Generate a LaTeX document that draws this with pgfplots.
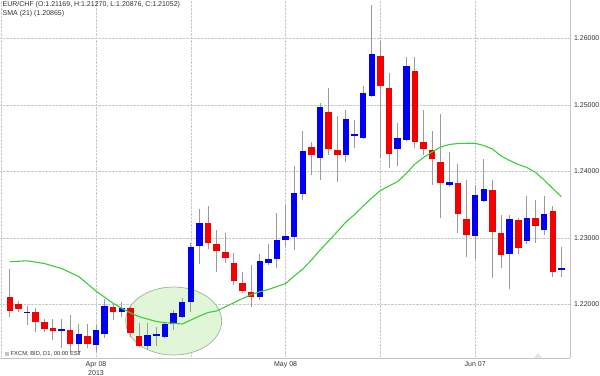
\documentclass[border=0pt]{standalone}
\usepackage{pgfplots}
\pgfplotsset{compat=1.18}
\usepackage{pgfplotstable}
\usepackage{fontspec}
\setmainfont{Liberation Sans}
\definecolor{candleup}{RGB}{0,0,245}
\definecolor{candledn}{RGB}{245,0,0}
\definecolor{wick}{RGB}{155,155,155}
\definecolor{smagreen}{RGB}{60,205,60}
\definecolor{gridc}{RGB}{200,200,200}
\definecolor{framec}{RGB}{195,195,195}
\definecolor{txt}{RGB}{50,50,50}

% up candles (close > open)
\pgfplotstableread{
i O H L C
-8 1.21865 1.21975 1.21689 1.21885
-4 1.21594 1.21775 1.21343 1.21629
-2 1.21399 1.21704 1.21238 1.21549
0 1.21388 1.21689 1.21283 1.21614
1 1.21549 1.22076 1.21494 1.21975
3 1.21889 1.22030 1.21805 1.21940
6 1.21378 1.21715 1.21313 1.21539
7 1.21530 1.21664 1.21378 1.21550
8 1.21513 1.21739 1.21489 1.21704
9 1.21704 1.21915 1.21614 1.21865
10 1.21814 1.22091 1.21790 1.22030
11 1.22039 1.22918 1.21889 1.22855
12 1.22882 1.23429 1.22602 1.23228
19 1.22115 1.22757 1.22065 1.22652
20 1.22617 1.22907 1.22591 1.22682
21 1.22682 1.23369 1.22542 1.22963
22 1.22967 1.23494 1.22867 1.23028
23 1.23017 1.24085 1.22817 1.23670
24 1.23655 1.24607 1.23569 1.24306
26 1.24196 1.25032 1.23870 1.24963
29 1.24246 1.24923 1.24145 1.24783
30 1.24538 1.24772 1.24356 1.24560
31 1.24497 1.25284 1.24480 1.25183
32 1.25138 1.26502 1.25120 1.25765
35 1.24341 1.24732 1.24085 1.24506
36 1.24471 1.25715 1.24450 1.25584
41 1.23795 1.24291 1.23769 1.23840
44 1.23031 1.23795 1.22682 1.23644
45 1.23558 1.24181 1.23534 1.23730
48 1.22757 1.23343 1.22226 1.23283
50 1.22957 1.23629 1.22907 1.23303
52 1.23118 1.23629 1.23043 1.23358
54 1.22520 1.22858 1.22415 1.22540
}\upc

% down candles (close < open)
\pgfplotstableread{
i O H L C
-10 1.22115 1.22531 1.21814 1.21904
-9 1.22005 1.22050 1.21889 1.21930
-7 1.21889 1.21945 1.21584 1.21730
-6 1.21730 1.21779 1.21588 1.21633
-5 1.21644 1.21775 1.21463 1.21603
-3 1.21618 1.21835 1.21283 1.21403
-1 1.21524 1.21704 1.21343 1.21408
2 1.21960 1.22015 1.21764 1.21880
4 1.21940 1.21975 1.21513 1.21564
5 1.21528 1.21715 1.21363 1.21378
13 1.23219 1.23479 1.22828 1.22927
14 1.22903 1.23118 1.22491 1.22807
15 1.22782 1.23068 1.22626 1.22701
16 1.22617 1.22767 1.22291 1.22355
17 1.22325 1.22491 1.22175 1.22205
18 1.22190 1.22591 1.21964 1.22115
25 1.24371 1.24446 1.23945 1.24246
27 1.24888 1.25249 1.24246 1.24332
28 1.24321 1.24832 1.23835 1.24246
33 1.25739 1.25965 1.24196 1.25288
34 1.25249 1.25484 1.24055 1.24261
37 1.25509 1.25715 1.24356 1.24437
38 1.24437 1.24923 1.24246 1.24336
39 1.24321 1.24607 1.23795 1.24181
40 1.24141 1.24862 1.23291 1.23829
42 1.23825 1.24118 1.23077 1.23354
43 1.23280 1.23870 1.22712 1.23043
46 1.23719 1.23870 1.22391 1.23092
47 1.23068 1.23343 1.22542 1.22742
49 1.23269 1.23298 1.22757 1.22852
51 1.23303 1.23569 1.22918 1.23178
53 1.23408 1.23479 1.22415 1.22491
}\dnc

% SMA (21)
\pgfplotstableread{
i S
-10 1.22641
-8 1.22655
-6 1.22614
-4 1.22539
-2 1.22418
0 1.22200
1 1.22106
2 1.22015
3 1.21940
4 1.21870
5 1.21814
6 1.21779
7 1.21742
8 1.21724
9 1.21715
10 1.21704
11 1.21764
12 1.21824
13 1.21877
14 1.21900
15 1.21963
16 1.22024
17 1.22088
18 1.22145
19 1.22190
20 1.22223
21 1.22268
22 1.22313
23 1.22426
24 1.22531
25 1.22667
26 1.22817
27 1.22952
28 1.23095
29 1.23238
30 1.23351
31 1.23479
32 1.23599
33 1.23712
34 1.23780
35 1.23847
36 1.23968
37 1.24110
38 1.24208
39 1.24291
40 1.24366
41 1.24404
42 1.24419
43 1.24422
44 1.24422
45 1.24389
46 1.24336
47 1.24231
48 1.24163
49 1.24103
50 1.24058
51 1.23983
52 1.23870
53 1.23742
54 1.23619
}\sma

\begin{document}
\begin{tikzpicture}
\path[use as bounding box] (0bp,-18bp) rectangle (600bp,358bp);
\begin{axis}[
  at={(0bp,0bp)}, anchor=south west, scale only axis,
  width=570bp, height=358bp,
  xmin=-11.14, xmax=55, ymin=1.21193, ymax=1.26577,
  axis x line*=bottom, axis y line*=right,
  axis line style={framec, line width=0.8bp},
  clip mode=individual,
  xtick={0,22,44},
  xticklabels={{Apr 08\\2013},{May 08},{Jun 07}},
  minor xtick={-11,11,33},
  ytick={1.22,1.23,1.24,1.25,1.26},
  yticklabels={1.22000,1.23000,1.24000,1.25000,1.26000},
  major tick length=0pt, minor tick length=0pt,
  grid=both,
  major grid style={gridc, densely dotted, line width=0.6bp},
  minor grid style={gridc, densely dotted, line width=0.6bp},
  /pgf/number format/assume math mode=true,
  xticklabel style={font=\fontsize{7bp}{9bp}\selectfont, text=txt, align=center},
  yticklabel style={font=\fontsize{7bp}{9bp}\selectfont, text=txt, anchor=west, xshift=0.5bp},
]
% highlighted region
\draw[draw={rgb,255:red,150;green,185;blue,150}, fill={rgb,255:red,224;green,246;blue,214}, line width=0.7bp]
  (axis cs:9.01,1.21749) ellipse [x radius=48bp, y radius=34bp];

% wicks
\addplot[draw=none, mark=none, forget plot,
  error bars/.cd, y dir=plus, y explicit, error mark=none,
  error bar style={draw=wick, line width=1bp}]
  table[x=i, y=L, y error expr=\thisrow{H}-\thisrow{L}] {\upc};
\addplot[draw=none, mark=none, forget plot,
  error bars/.cd, y dir=plus, y explicit, error mark=none,
  error bar style={draw=wick, line width=1bp}]
  table[x=i, y=L, y error expr=\thisrow{H}-\thisrow{L}] {\dnc};
% bodies
\addplot[draw=none, mark=none, forget plot,
  error bars/.cd, y dir=plus, y explicit, error mark=none,
  error bar style={draw=candleup, line width=6.5bp}]
  table[x=i, y=O, y error expr=\thisrow{C}-\thisrow{O}] {\upc};
\addplot[draw=none, mark=none, forget plot,
  error bars/.cd, y dir=plus, y explicit, error mark=none,
  error bar style={draw=candledn, line width=6.5bp}]
  table[x=i, y=C, y error expr=\thisrow{O}-\thisrow{C}] {\dnc};
% SMA
\addplot[smagreen, line width=1.1bp, mark=none] table[x=i, y=S] {\sma};

% header text
\node[anchor=north west, inner sep=0pt, align=left, text=txt,
  font=\fontsize{7bp}{9.5bp}\selectfont]
  at ([xshift=2.5bp, yshift=-1bp]rel axis cs:0,1)
  {EUR/CHF (O:1.21169, H:1.21270, L:1.20876, C:1.21052)\\SMA (21) (1.20865)};
% footer text
\fill[gray!45] ([xshift=5bp, yshift=2bp]rel axis cs:0,0) rectangle ++(3.5bp,4bp);
\node[anchor=south west, inner sep=0pt, text=txt, font=\fontsize{5.8bp}{7bp}\selectfont]
  at ([xshift=10.5bp, yshift=1.5bp]rel axis cs:0,0) {FXCM, BID, D1, 00:00 EST};
% small marker triangle at the bottom
\fill[gray!22] ([xshift=-4bp]axis cs:51.28,1.21193) -- ++(4bp,5bp) -- ++(4bp,-5bp) -- cycle;
\end{axis}
\end{tikzpicture}
\end{document}
